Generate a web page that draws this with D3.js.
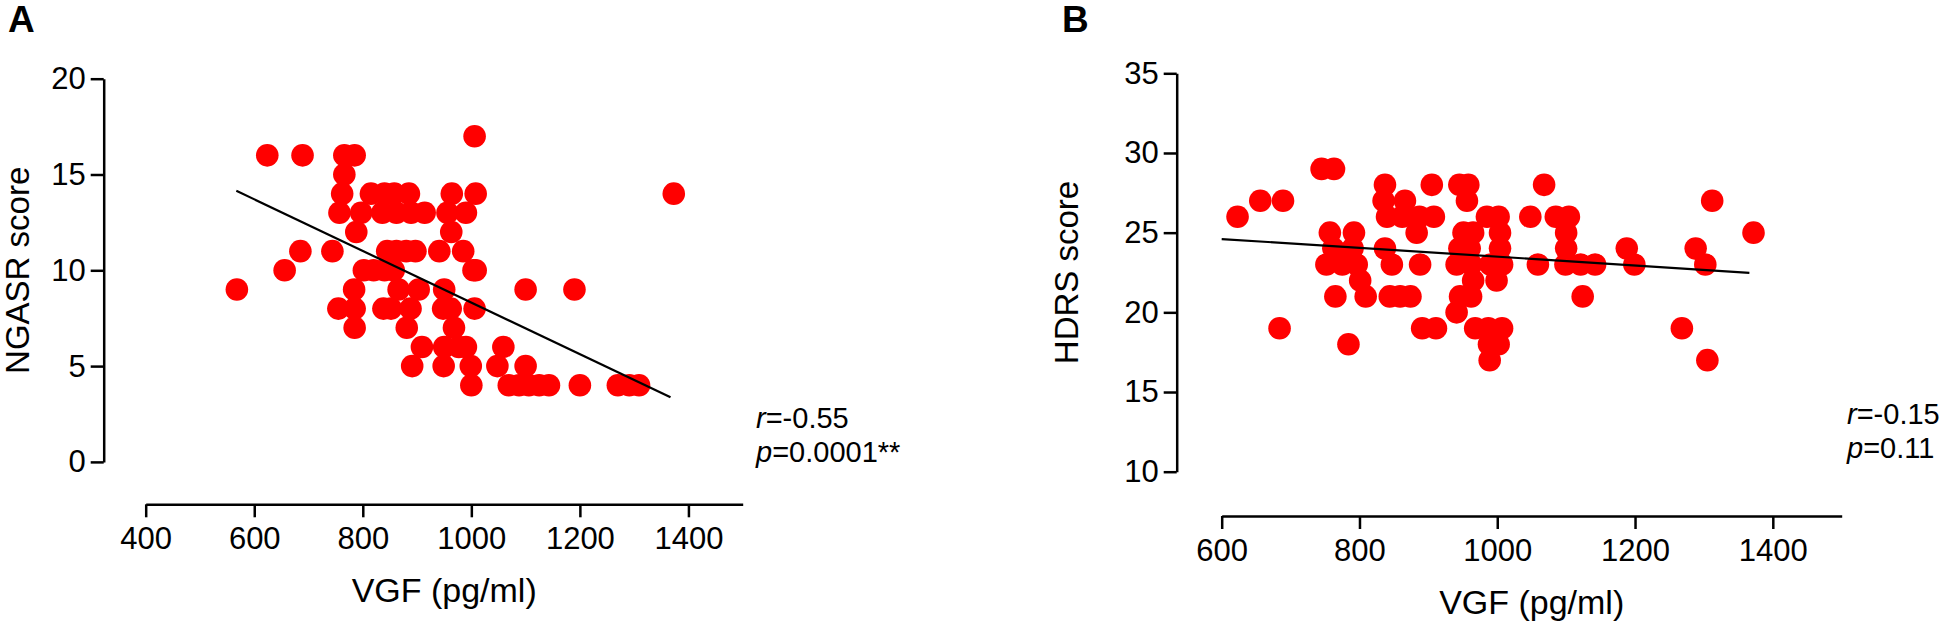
<!DOCTYPE html>
<html>
<head>
<meta charset="utf-8">
<script src="https://cdn.jsdelivr.net/npm/d3@7"></script>
<style>
body { margin: 0; background: #fff; }
svg { display: block; font-family: "Liberation Sans", Arial, sans-serif; }
.axis path, .axis line { stroke: #000; stroke-width: 2.5; }
.axis text { font-size: 31px; fill: #000; font-family: "Liberation Sans", Arial, sans-serif; }
</style>
</head>
<body>
<svg id="chart" width="1946" height="627"></svg>
<script>
// panel A: VGF vs NGASR score, [VGF pg/ml, score]
var ngasrPoints = [
[1006,17],
[624,16],[689,16],[766,16],[785,16],
[766,15],
[762,14],[815,14],[840,14],[858,14],[885,14],[964,14],[1008,14],[1373,14],
[757,13],[797,13],[836,13],[862,13],[889,13],[914,13],[956,13],[990,13],
[788,12],[963,12],
[685,11],[744,11],[845,11],[862,11],[880,11],[897,11],[941,11],[985,11],
[656,10],[802,10],[820,10],[840,10],[857,10],[1004,10],[1008,10],
[568,9],[784,9],[866,9],[903,9],[950,9],[1100,9],[1190,9],
[755,8],[785,8],[838,8],[852,8],[888,8],[948,8],[962,8],[1006,8],
[785,7],[881,7],[968,7],
[909,6],[950,6],[977,6],[990,6],[1059,6],
[891,5],[949,5],[999,5],[1048,5],[1100,5],
[1000,4],[1069,4],[1088,4],[1106,4],[1125,4],[1143,4],[1200,4],[1270,4],[1291,4],[1309,4]
]
var ngasrFit = [[567,14.15],[1367,3.37]]

// panel B: VGF vs HDRS score
var hdrsPoints = [
[745,29],[763,29],
[837,28],[905,28],[945,28],[958,28],[1068,28],
[656,27],[689,27],[835,27],[866,27],[956,27],[1312,27],
[623,26],[840,26],[862,26],[887,26],[908,26],[985,26],[1002,26],[1048,26],[1085,26],[1104,26],
[757,25],[792,25],[883,25],[951,25],[965,25],[1004,25],[1100,25],[1372,25],
[762,24],[790,24],[837,24],[945,24],[960,24],[1004,24],[1100,24],[1188,24],[1288,24],
[752,23],[775,23],[796,23],[847,23],[888,23],[941,23],[962,23],[990,23],[1007,23],[1059,23],[1099,23],[1121,23],[1142,23],[1199,23],[1302,23],
[801,22],[965,22],[999,22],
[765,21],[809,21],[844,21],[859,21],[874,21],[946,21],[962,21],[1124,21],
[941,20],
[684,19],[891,19],[911,19],[968,19],[987,19],[1007,19],[1268,19],
[784,18],[988,18],[1002,18],
[989,17],[1305,17]
]
var hdrsFit = [[600,24.6],[1366,22.48]]

var ngasrXTicks = [400,600,800,1000,1200,1400]
var ngasrYTicks = [0,5,10,15,20]
var hdrsXTicks = [600,800,1000,1200,1400]
var hdrsYTicks = [10,15,20,25,30,35]

var svg = d3.select("#chart")

var drawPanel = function(p){

var x = d3.scaleLinear().domain(p.xDomain).range(p.xRange)
var y = d3.scaleLinear().domain(p.yDomain).range(p.yRange)

svg.append("g")
.attr("class", "axis")
.attr("transform", "translate(" + p.yAxisX + ",0)")
.call(d3.axisLeft(y).tickValues(p.yTicks).tickFormat(d3.format("d")).tickSize(13).tickSizeOuter(0).tickPadding(5))

svg.append("g")
.attr("class", "axis")
.attr("transform", "translate(0," + p.xAxisY + ")")
.call(d3.axisBottom(x).tickValues(p.xTicks).tickFormat(d3.format("d")).tickSize(13).tickSizeOuter(0).tickPadding(10))

svg.selectAll(".axis .domain").attr("fill", "none")

svg.append("g").selectAll("circle")
.data(p.points)
.enter().append("circle")
.attr("cx", d => x(d[0]))
.attr("cy", d => y(d[1]))
.attr("r", 11.3)
.attr("fill", "#ff0000")

svg.append("line")
.attr("x1", x(p.fit[0][0])).attr("y1", y(p.fit[0][1]))
.attr("x2", x(p.fit[1][0])).attr("y2", y(p.fit[1][1]))
.attr("stroke", "#000")
.attr("stroke-width", 2.2)

//titles
svg.append("text")
.attr("x", (p.xRange[0] + p.xRange[1]) / 2)
.attr("y", p.xAxisY + 98)
.attr("text-anchor", "middle")
.attr("font-size", 34)
.text("VGF (pg/ml)")

svg.append("text")
.attr("transform", "translate(" + p.yTitleX + "," + (p.yRange[0] + p.yRange[1]) / 2 + ") rotate(-90)")
.attr("text-anchor", "middle")
.attr("font-size", 33)
.text(p.yTitle)

svg.append("text")
.attr("x", p.letterX).attr("y", 32)
.attr("font-size", 37)
.attr("font-weight", "bold")
.text(p.letter)

var r = svg.append("text").attr("x", p.statX).attr("y", p.statY).attr("font-size", 29)
r.append("tspan").attr("font-style", "italic").text("r")
r.append("tspan").text(p.rText)
var pv = svg.append("text").attr("x", p.statX).attr("y", p.statY + 34).attr("font-size", 29)
pv.append("tspan").attr("font-style", "italic").text("p")
pv.append("tspan").text(p.pText)
}

drawPanel({
points: ngasrPoints, fit: ngasrFit,
xDomain: [400,1500], xRange: [145.7,742.7],
yDomain: [0,20], yRange: [461.9,78.7],
xTicks: ngasrXTicks, yTicks: ngasrYTicks,
yAxisX: 103.7, xAxisY: 504.3, yTitleX: 29,
yTitle: "NGASR score", letter: "A", letterX: 8,
statX: 756, statY: 428, rText: "=-0.55", pText: "=0.0001**"
})

drawPanel({
points: hdrsPoints, fit: hdrsFit,
xDomain: [600,1500], xRange: [1221.7,1841.7],
yDomain: [10,35], yRange: [471.7,73.3],
xTicks: hdrsXTicks, yTicks: hdrsYTicks,
yAxisX: 1176.7, xAxisY: 516, yTitleX: 1078,
yTitle: "HDRS score", letter: "B", letterX: 1062,
statX: 1847, statY: 424, rText: "=-0.15", pText: "=0.11"
})
</script>
</body>
</html>
